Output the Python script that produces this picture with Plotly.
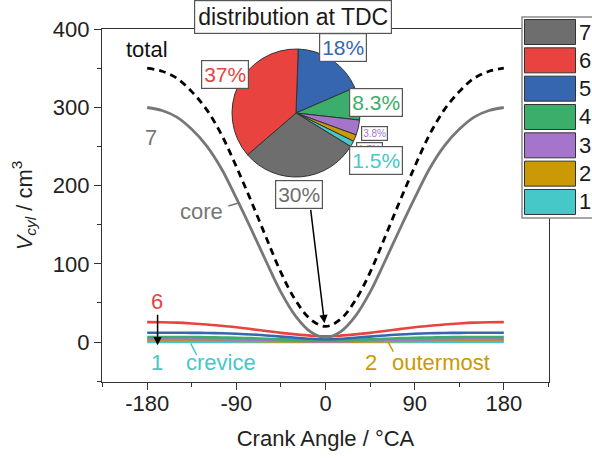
import plotly.graph_objects as go

# ---------------- data ----------------
theta = [-180, -165, -150, -135, -120, -105, -90, -75, -60, -45, -30, -15, 0,
         15, 30, 45, 60, 75, 90, 105, 120, 135, 150, 165, 180]

v_total = [350, 346, 337, 320, 297, 265, 224, 180, 134, 89, 53, 29, 20,
           29, 53, 89, 134, 180, 224, 265, 297, 320, 337, 346, 350]
v_core7 = [299.7, 295.9, 287.4, 271.8, 250.8, 221.5, 183.8, 144.2, 103.3, 63.8, 32.8, 13.0, 5.9,
           13.0, 32.8, 63.8, 103.3, 144.2, 183.8, 221.5, 250.8, 271.8, 287.4, 295.9, 299.7]
v_zone6 = [25.5, 25.3, 24.8, 23.8, 22.5, 20.8, 19.0, 16.6, 14.2, 11.8, 9.8, 8.2, 7.4,
           8.2, 9.8, 11.8, 14.2, 16.6, 19.0, 20.8, 22.5, 23.8, 24.8, 25.3, 25.5]
v_zone5 = [12.0, 12.0, 12.0, 11.8, 11.6, 11.2, 10.6, 9.7, 8.5, 7.0, 5.5, 4.2, 3.6,
           4.2, 5.5, 7.0, 8.5, 9.7, 10.6, 11.2, 11.6, 11.8, 12.0, 12.0, 12.0]
v_zone4 = [6.5, 6.5, 6.5, 6.4, 6.2, 5.9, 5.5, 5.0, 4.3, 3.5, 2.7, 2.0, 1.7,
           2.0, 2.7, 3.5, 4.3, 5.0, 5.5, 5.9, 6.2, 6.4, 6.5, 6.5, 6.5]
v_zone3 = [4.0, 4.0, 4.0, 3.9, 3.7, 3.5, 3.2, 2.8, 2.3, 1.8, 1.3, 0.9, 0.8,
           0.9, 1.3, 1.8, 2.3, 2.8, 3.2, 3.5, 3.7, 3.9, 4.0, 4.0, 4.0]
v_zone2 = [2.0, 2.0, 2.0, 2.0, 1.9, 1.8, 1.6, 1.4, 1.1, 0.8, 0.6, 0.4, 0.35,
           0.4, 0.6, 0.8, 1.1, 1.4, 1.6, 1.8, 1.9, 2.0, 2.0, 2.0, 2.0]
v_zone1 = [0.3, 0.3, 0.3, 0.3, 0.3, 0.3, 0.3, 0.3, 0.3, 0.3, 0.3, 0.3, 0.3,
           0.3, 0.3, 0.3, 0.3, 0.3, 0.3, 0.3, 0.3, 0.3, 0.3, 0.3, 0.3]

# pie at TDC (clockwise from 12 o'clock)
pie_zones = ["5", "4", "3", "2", "1", "7", "6"]
pie_pct = [18, 8.3, 3.8, 1.7, 1.5, 30, 37]
pie_text = ["18%", "8.3%", "3.8%", "1.7%", "1.5%", "30%", "37%"]

legend_zones = ["7", "6", "5", "4", "3", "2", "1"]
x_ticks = [-180, -90, 0, 90, 180]
y_ticks = [0, 100, 200, 300, 400]

colors = {"7": "#6e6e6e", "6": "#E8433F", "5": "#3566AF", "4": "#3BAE6B",
          "3": "#A575CB", "2": "#CC9906", "1": "#46C8C8"}
core_line = "#777777"

# ---------------- layout geometry (pixels) ----------------
W, H = 592, 458
L, R, T, B = 102, 43, 29, 76
PW, PH = W - L - R, H - T - B


def px(x):
    return (x - L) / PW


def py(y):
    return (H - B - y) / PH


FONT = "Liberation Sans, Arial, sans-serif"

fig = go.Figure()

zone_series = [("1", v_zone1), ("2", v_zone2), ("3", v_zone3), ("4", v_zone4),
               ("5", v_zone5), ("6", v_zone6)]
for name, vals in zone_series:
    fig.add_trace(go.Scatter(x=theta, y=vals, mode="lines", line_shape="spline",
                             line=dict(color=colors[name], width=2.6),
                             showlegend=False, hoverinfo="skip"))
fig.add_trace(go.Scatter(x=theta, y=v_core7, mode="lines", line_shape="spline",
                         line=dict(color=core_line, width=2.8),
                         showlegend=False, hoverinfo="skip"))
fig.add_trace(go.Scatter(x=theta, y=v_total, mode="lines", line_shape="spline",
                         line=dict(color="black", width=2.8, dash="7px,5px"),
                         showlegend=False, hoverinfo="skip"))

# pie
cx, cy, r = 296, 113, 64
fig.add_trace(go.Pie(labels=pie_zones, values=pie_pct, sort=False,
                     direction="clockwise", rotation=2,
                     marker=dict(colors=[colors[z] for z in pie_zones],
                                 line=dict(color="#333333", width=1)),
                     textinfo="none", hoverinfo="skip", showlegend=False,
                     domain=dict(x=[px(cx - r), px(cx + r)], y=[py(cy + r), py(cy - r)])))

annotations = []


def txt(x, y, text, color, size=22, box=False, pad=2, xanchor="center"):
    d = dict(x=px(x), y=py(y), xref="paper", yref="paper", text=text,
             showarrow=False, xanchor=xanchor, yanchor="middle",
             font=dict(family=FONT, size=size, color=color))
    if box:
        d.update(bgcolor="white", bordercolor="#555555", borderwidth=1.2, borderpad=pad)
    annotations.append(d)


# title box
txt(293, 17, "distribution at TDC", "#1a1a1a", size=23, box=True, pad=3)

# pie percentage labels
pie_lbl_pos = {"18%": (343, 47, 21), "8.3%": (376, 102, 21), "37%": (225, 75, 21),
               "1.7%": (369, 149, 10), "3.8%": (374, 133, 10), "1.5%": (376, 160, 21)}
for key in ["37%", "18%", "8.3%", "1.7%", "3.8%", "1.5%"]:
    i = pie_text.index(key)
    x, y, s = pie_lbl_pos[key]
    txt(x, y, key, colors[pie_zones[i]], size=s, box=True, pad=2 if s > 15 else 1)
i30 = pie_text.index("30%")
txt(299, 194, pie_text[i30], "#6e6e6e", size=21, box=True)

# curve labels
txt(147, 49, "total", "#111111")
txt(151, 137, "7", core_line)
txt(201, 212, "core", core_line)
txt(157, 301, "6", colors["6"])
txt(157, 362, "1", colors["1"])
txt(221, 362, "crevice", colors["1"])
txt(371, 362, "2", colors["2"])
txt(441, 362, "outermost", colors["2"])

# arrows
annotations.append(dict(x=-1, y=24, xref="x", yref="y", ax=-14, ay=-115,
                        showarrow=True, arrowhead=2, arrowsize=1.1, arrowwidth=1.5,
                        arrowcolor="black", text=""))
annotations.append(dict(x=-169.5, y=-4, xref="x", yref="y", ax=0, ay=-32,
                        showarrow=True, arrowhead=2, arrowsize=1.1, arrowwidth=1.5,
                        arrowcolor="black", text=""))

# legend (drawn)
shapes = []
lx0, ly0, ly1 = 522, 17, 218
shapes.append(dict(type="rect", xref="paper", yref="paper", x0=px(lx0), x1=px(610),
                   y0=py(ly1), y1=py(ly0), fillcolor="white",
                   line=dict(color="#8a8a8a", width=1.5), layer="above"))
for k, z in enumerate(legend_zones):
    top = 19.5 + 28.33 * k
    shapes.append(dict(type="rect", xref="paper", yref="paper", x0=px(524.5), x1=px(575.5),
                       y0=py(top + 25), y1=py(top), fillcolor=colors[z],
                       line=dict(color="#333333", width=1), layer="above"))
    txt(577, top + 12.5, z, "#1a1a1a", size=22, xanchor="left")

# leader lines
for (x0, y0, x1, y1, c) in [(228.3, 206, 239.3, 202.7, core_line),
                            (190.7, 343.3, 196.7, 355, colors["1"]),
                            (387.3, 340.7, 393.3, 351.7, colors["2"])]:
    shapes.append(dict(type="line", xref="paper", yref="paper", x0=px(x0), y0=py(y0),
                       x1=px(x1), y1=py(y1), line=dict(color=c, width=1.5)))

axis_common = dict(showline=True, linecolor="#333333", linewidth=1.3, mirror=True,
                   ticks="outside", ticklen=7, tickwidth=1.3, tickcolor="#333333",
                   showgrid=False, zeroline=False, automargin=False,
                   tickfont=dict(family=FONT, size=22, color="#222222"))

fig.update_layout(
    width=W, height=H, margin=dict(l=L, r=R, t=T, b=B, autoexpand=False),
    paper_bgcolor="white", plot_bgcolor="white",
    xaxis=dict(range=[-225.6, 225.6], tickvals=x_ticks,
               ticktext=[str(v) for v in x_ticks], ticklabelstandoff=-6,
               minor=dict(ticks="outside", ticklen=4, tickwidth=1.2, dtick=45, tick0=-180,
                          tickcolor="#333333"),
               title=dict(text="Crank Angle / °CA", standoff=16,
                          font=dict(family=FONT, size=22, color="#222222")),
               **axis_common),
    yaxis=dict(range=[-51, 400], tickvals=y_ticks,
               minor=dict(ticks="outside", ticklen=4, tickwidth=1.2, dtick=50, tick0=0,
                          tickcolor="#333333"),
               title=dict(text="<i>V</i><sub><i>cyl</i></sub> / cm<sup>3</sup>", standoff=14,
                          font=dict(family=FONT, size=22, color="#222222")),
               **axis_common),
    annotations=annotations, shapes=shapes, showlegend=False,
)

fig.write_html("out.html")
